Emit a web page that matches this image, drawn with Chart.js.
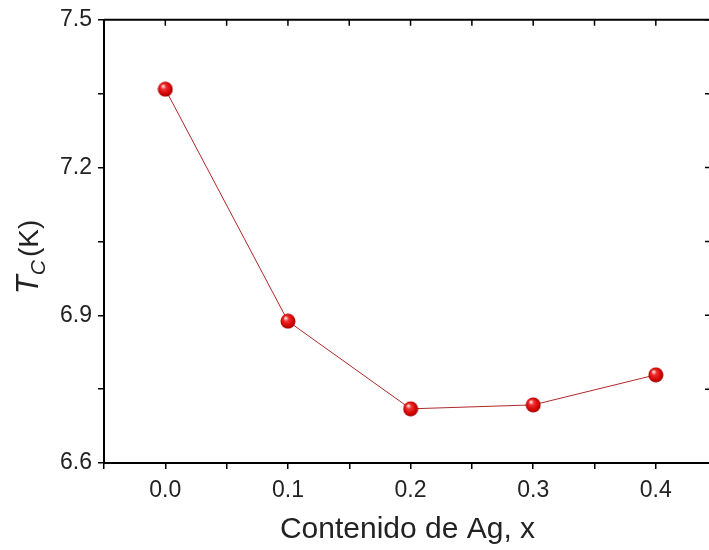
<!DOCTYPE html>
<html>
<head>
<meta charset="utf-8">
<script src="https://cdn.jsdelivr.net/npm/chart.js@4.4.1/dist/chart.umd.min.js"></script>
<style>
    html, body { margin: 0; padding: 0; background: #fff; overflow: hidden; }
    #wrap { width: 730px; height: 550px; position: relative; }
</style>
</head>
<body>
<div id="wrap"><canvas id="tc-chart"></canvas></div>
<script>
    'use strict';

    // values
    var agContent = [0.0, 0.1, 0.2, 0.3, 0.4];
    var tcValues = [7.359, 6.888, 6.710, 6.718, 6.779];
    var xTickLabels = ['0.0', '0.1', '0.2', '0.3', '0.4'];
    var yTickLabels = ['6.6', '6.9', '7.2', '7.5'];

    var FONT = '"Liberation Sans", Arial, sans-serif';

    // small red sphere used as the marker
    function makeSphere(size) {
        var c = document.createElement('canvas');
        c.width = size;
        c.height = size;
        var g = c.getContext('2d');
        var r = size / 2;
        var grad = g.createRadialGradient(r * 0.7, r * 0.6, r * 0.1, r, r, r);
        grad.addColorStop(0, '#ffd0d0');
        grad.addColorStop(0.25, '#f03030');
        grad.addColorStop(0.75, '#d00000');
        grad.addColorStop(1, '#900000');
        g.fillStyle = grad;
        g.beginPath();
        g.arc(r, r, r - 0.5, 0, Math.PI * 2);
        g.fill();
        return c;
    }

    // mirrored top/right axes with inward ticks
    var frameAxes = {
        id: 'frameAxes',
        afterDraw: function(chart) {
            var ctx = chart.ctx;
            var a = chart.chartArea;
            var xs = chart.scales.x;
            var ys = chart.scales.y;
            ctx.save();
            ctx.strokeStyle = '#000';
            ctx.lineWidth = 2;
            ctx.beginPath();
            ctx.moveTo(a.left, a.top);
            ctx.lineTo(a.right, a.top);
            ctx.lineTo(a.right, a.bottom);
            ctx.stroke();
            ctx.lineWidth = 1.5;
            ctx.beginPath();
            xs.ticks.forEach(function(t) {
                var px = xs.getPixelForValue(t.value);
                ctx.moveTo(px, a.top);
                ctx.lineTo(px, a.top + 6);
            });
            ys.ticks.forEach(function(t) {
                var py = ys.getPixelForValue(t.value);
                ctx.moveTo(a.right, py);
                ctx.lineTo(a.right - 6, py);
            });
            ctx.stroke();
            ctx.restore();
        }
    };

    // y title: italic T with subscript c, then (K)
    var yTitle = {
        id: 'yTitle',
        afterDraw: function(chart) {
            var ctx = chart.ctx;
            ctx.save();
            ctx.translate(38, 257);
            ctx.rotate(-Math.PI / 2);
            ctx.fillStyle = '#222';
            ctx.textBaseline = 'alphabetic';
            ctx.textAlign = 'left';
            var big = 'italic 31px ' + FONT;
            var small = 'italic 21px ' + FONT;
            var norm = '28px ' + FONT;
            ctx.font = big;
            var wT = ctx.measureText('T').width;
            ctx.font = small;
            var wC = ctx.measureText('C').width;
            ctx.font = norm;
            var wK = ctx.measureText('(K)').width;
            var total = wT + wC + 3 + wK;
            var x = -total / 2;
            ctx.font = big;
            ctx.fillText('T', x, 0);
            x += wT;
            ctx.font = small;
            ctx.fillText('C', x, 7);
            x += wC + 3;
            ctx.font = norm;
            ctx.fillText('(K)', x, 0);
            ctx.restore();
        }
    };

    var ctx = document.getElementById('tc-chart').getContext('2d');
    new Chart(ctx, {
        type: 'line',
        data: {
            datasets: [{
                data: agContent.map(function(x, i) { return { x: x, y: tcValues[i] }; }),
                borderColor: '#b02828',
                borderWidth: 1,
                pointStyle: makeSphere(16),
                pointRadius: 8,
                pointHoverRadius: 8,
                fill: false,
                tension: 0
            }]
        },
        options: {
            responsive: true,
            maintainAspectRatio: false,
            animation: false,
            events: [],
            layout: { padding: { top: 17, right: 19, left: 0, bottom: 0 } },
            plugins: { legend: { display: false }, tooltip: { enabled: false } },
            scales: {
                x: {
                    type: 'linear',
                    min: -0.05,
                    max: 0.445,
                    afterFit: function(scale) { scale.height = 87; },
                    border: { color: '#000', width: 2 },
                    grid: { drawOnChartArea: false, drawTicks: true, tickLength: 6, color: '#000', lineWidth: 1.5 },
                    ticks: {
                        stepSize: 0.05,
                        includeBounds: false,
                        autoSkip: false,
                        maxRotation: 0,
                        padding: 8,
                        color: '#222',
                        font: { family: FONT, size: 23 },
                        callback: function(v, i) {
                            return i % 2 === 1 ? xTickLabels[(i - 1) / 2] : '';
                        }
                    },
                    title: {
                        display: true,
                        text: 'Contenido de Ag, x',
                        color: '#222',
                        font: { family: FONT, size: 30 },
                        padding: { top: 0, bottom: 2 }
                    }
                },
                y: {
                    min: 6.6,
                    max: 7.5,
                    afterFit: function(scale) { scale.width = 104; },
                    border: { color: '#000', width: 2 },
                    grid: { drawOnChartArea: false, drawTicks: true, tickLength: 6, color: '#000', lineWidth: 1.5 },
                    ticks: {
                        stepSize: 0.15,
                        autoSkip: false,
                        padding: 6,
                        color: '#222',
                        font: { family: FONT, size: 23 },
                        callback: function(v, i) {
                            return i % 2 === 0 ? yTickLabels[i / 2] : '';
                        }
                    }
                }
            }
        },
        plugins: [frameAxes, yTitle]
    });
</script>
</body>
</html>
